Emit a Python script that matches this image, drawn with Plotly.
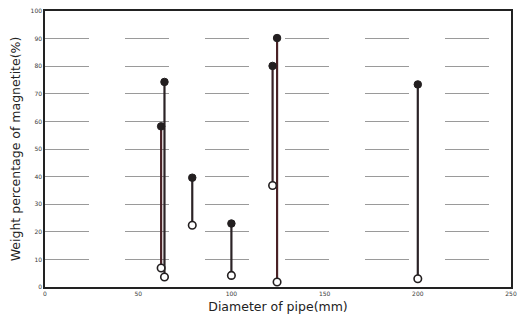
import plotly.graph_objects as go

# Pipe diameter (mm) for each sampled line
diameter = [62.3, 64.1, 79.0, 100.0, 122.1, 124.5, 200.0]
# Highest and lowest magnetite content measured at each diameter (wt %)
magnetite_max = [58.2, 74.3, 39.6, 23.0, 80.1, 90.2, 73.4]
magnetite_min = [6.9, 3.6, 22.4, 4.2, 36.8, 1.8, 3.0]

x_ticks = [0, 50, 100, 150, 200, 250]
y_ticks = [0, 10, 20, 30, 40, 50, 60, 70, 80, 90, 100]

line_colors = ["#4a2226", "#2b2326", "#2b2326", "#2b2326", "#3a2228", "#4a2226", "#2b2326"]

fig = go.Figure()

# Range bars joining min and max for each diameter
for d, lo, hi, c in zip(diameter, magnetite_min, magnetite_max, line_colors):
    fig.add_trace(go.Scatter(
        x=[d, d], y=[lo, hi], mode="lines",
        line=dict(color=c, width=2.2), hoverinfo="skip", showlegend=False,
    ))

# Maximum values: filled circles
fig.add_trace(go.Scatter(
    x=diameter, y=magnetite_max, mode="markers",
    marker=dict(symbol="circle", size=7.5, color="#231f20",
                line=dict(color="#231f20", width=1)),
    showlegend=False,
))

# Minimum values: open circles
fig.add_trace(go.Scatter(
    x=diameter, y=magnetite_min, mode="markers",
    marker=dict(symbol="circle", size=7.5, color="white",
                line=dict(color="#231f20", width=1.6)),
    showlegend=False,
))

fig.update_layout(
    width=522, height=323,
    margin=dict(l=45, r=5, t=11, b=36),
    paper_bgcolor="white", plot_bgcolor="white",
    font=dict(family="DejaVu Sans", color="#333"),
    xaxis=dict(
        range=[0, 250], tickvals=x_ticks, ticktext=[str(v) for v in x_ticks],
        showgrid=False, zeroline=False,
        showline=True, linecolor="#222", linewidth=1.5, mirror=True,
        ticks="", tickfont=dict(size=6, color="#3a3a3a"),
        title=dict(text="Diameter of pipe(mm)", font=dict(size=12.5, color="#222"),
                   standoff=6),
    ),
    yaxis=dict(
        range=[0, 100], tickvals=y_ticks, ticktext=[str(v) for v in y_ticks],
        showgrid=True, gridcolor="#9a9a9a", gridwidth=1, griddash="44px,36px",
        zeroline=False,
        showline=True, linecolor="#222", linewidth=1.5, mirror=True,
        ticks="", tickfont=dict(size=6, color="#3a3a3a"),
        title=dict(text="Weight percentage of magnetite(%)",
                   font=dict(size=12.5, color="#222"), standoff=7),
    ),
)

fig.write_html("out.html")
